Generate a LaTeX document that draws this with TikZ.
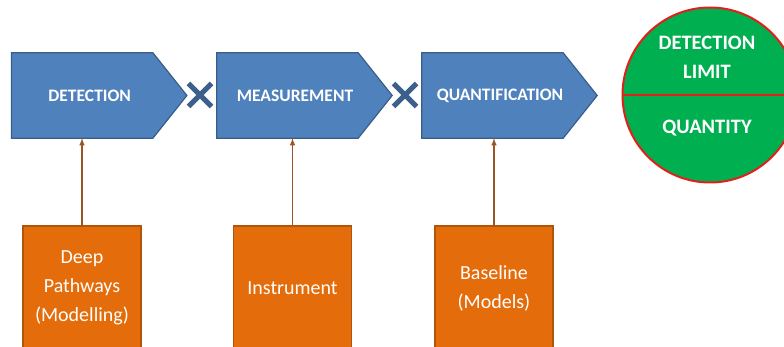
\documentclass[tikz,border=0pt]{standalone}
\usepackage{fontspec}
\setmainfont{Carlito}
\usetikzlibrary{shapes.misc,backgrounds}
\definecolor{stepblue}{HTML}{4F81BD}
\definecolor{stepedge}{HTML}{385D8A}
\definecolor{crossblue}{HTML}{3D5F8C}
\definecolor{srcorange}{HTML}{E46C0A}
\definecolor{srcedge}{HTML}{B0560C}
\definecolor{linkbrown}{HTML}{9A5524}
\definecolor{resgreen}{HTML}{00B050}
\definecolor{resred}{HTML}{E0201B}

\begin{document}
\begin{tikzpicture}[x=1pt,y=-1pt,
  stage/.style={rectangle, minimum width=156pt, minimum height=85pt, inner sep=0pt, text=white, font=\fontsize{17.5}{21}\selectfont\bfseries},
  stageshape/.style={draw=stepedge, line width=1.2pt, fill=stepblue, line join=miter},
  source/.style={rectangle, draw=srcedge, line width=1.5pt, fill=srcorange, minimum width=118pt, minimum height=124pt, align=center, text=white, font=\fontsize{20}{29}\selectfont},
  times/.style={cross out, draw=crossblue, line width=5pt, minimum size=18pt, inner sep=0pt},
  feed/.style={->, >=latex, draw=linkbrown, line width=1.5pt},
  restext/.style={align=center, text=white, font=\fontsize{20.5}{29}\selectfont\bfseries}
]
\useasboundingbox (0,0) rectangle (784,347);

% The three stages
\node[stage] (detect) at (89.7,95.5) {DETECTION};
\node[stage] (measure) at (295,95.5) {MEASUREMENT};
\node[stage] (quant) at (500,95.5) {QUANTIFICATION};

% Arrow-shaped backgrounds of the stages
\begin{scope}[on background layer]
\foreach \s in {detect,measure,quant}
  \draw[stageshape] (\s.north west) -- ([xshift=-15]\s.north east) -- ([xshift=19]\s.east) -- ([xshift=-15]\s.south east) -- (\s.south west) -- cycle;
\end{scope}

% Multiplication marks between stages
\node[times] (x1) at (200,95) {};
\node[times] (x2) at (405,95) {};

% Result circle
\node[circle, draw=resred, line width=2pt, fill=resgreen, minimum size=175pt, inner sep=0pt] (result) at (710,95) {};
\draw[resred, line width=2pt] (result.west) -- (result.east);
\node[restext] (limit) at (707,57.5) {DETECTION\\LIMIT};
\node[restext] (amount) at (707,128) {QUANTITY};

% Inputs feeding each stage
\node[source] (deep) at (82,288) {Deep\\Pathways\\(Modelling)};
\node[source] (instr) at (292.5,288) {Instrument};
\node[source] (base) at (494,288) {Baseline\\(Models)};

\draw[feed] (deep.north) -- (deep.north |- detect.south);
\draw[feed] (instr.north) -- (instr.north |- measure.south);
\draw[feed] (base.north) -- (base.north |- quant.south);

\end{tikzpicture}
\end{document}
